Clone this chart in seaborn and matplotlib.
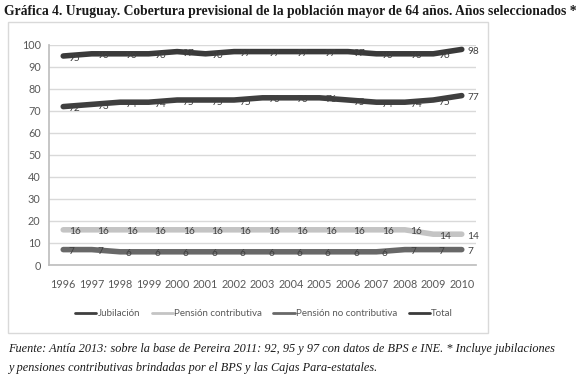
import pandas as pd
import matplotlib.pyplot as plt
import matplotlib.patches as patches
from matplotlib.lines import Line2D
import seaborn as sns

# Datos
anios = [1996, 1997, 1998, 1999, 2000, 2001, 2002, 2003, 2004, 2005, 2006, 2007, 2008, 2009, 2010]
jubilacion = [72, 73, 74, 74, 75, 75, 75, 76, 76, 76, 75, 74, 74, 75, 77]
pension_contributiva = [16, 16, 16, 16, 16, 16, 16, 16, 16, 16, 16, 16, 16, 14, 14]
pension_no_contributiva = [7, 7, 6, 6, 6, 6, 6, 6, 6, 6, 6, 6, 7, 7, 7]
total = [95, 96, 96, 96, 97, 96, 97, 97, 97, 97, 97, 96, 96, 96, 98]

series = ["Jubilación", "Pensión contributiva", "Pensión no contributiva", "Total"]
colores = ["#3f3f3f", "#c4c4c4", "#686868", "#3a3a3a"]

df = pd.DataFrame({
    "pos": list(range(len(anios))) * 4,
    "valor": jubilacion + pension_contributiva + pension_no_contributiva + total,
    "serie": [s for s in series for _ in anios],
})

sns.set_theme(style="white")
plt.rcParams["font.family"] = ["Lato", "DejaVu Sans"]

fig = plt.figure(figsize=(5.8, 3.8), dpi=100)
ax = fig.add_axes([49 / 580, 1 - 265 / 380, (476 - 49) / 580, 220 / 380])

# Marco del gráfico
fig.patches.append(patches.Rectangle((8 / 580, 1 - 333 / 380), 480 / 580, 311 / 380,
                                     transform=fig.transFigure, fill=False,
                                     edgecolor="#d9d9d9", linewidth=1))

sns.lineplot(data=df, x="pos", y="valor", hue="serie", palette=colores,
             hue_order=series, linewidth=4, legend=False, ax=ax)

# Etiquetas de datos
for s, c in zip(series, colores):
    sub = df[df["serie"] == s]
    for x, y in zip(sub["pos"], sub["valor"]):
        ax.annotate(str(y), (x, y), xytext=(4, -1.5), textcoords="offset points",
                    ha="left", va="center", fontsize=7.3, color="#404040")

ax.set_xlim(-0.5, len(anios) - 0.5)
ax.set_ylim(0, 100)
ax.set_yticks(range(0, 101, 10))
ax.set_xticks(range(len(anios)))
ax.set_xticklabels([str(a) for a in anios])
ax.set_xticks([i - 0.5 for i in range(len(anios) + 1)], minor=True)
ax.grid(axis="y", color="#d9d9d9", linewidth=1)
ax.set_axisbelow(True)
ax.tick_params(axis="x", which="major", length=0, labelsize=7.8, labelcolor="#595959", pad=10)
ax.tick_params(axis="x", which="minor", length=4, color="#bfbfbf", direction="out")
ax.tick_params(axis="y", length=3, color="#bfbfbf", labelsize=7.8, labelcolor="#595959", pad=3)
for lado in ["top", "right"]:
    ax.spines[lado].set_visible(False)
ax.spines["left"].set_color("#bfbfbf")
ax.spines["bottom"].set_color("#bfbfbf")
ax.set_xlabel("")
ax.set_ylabel("")

handles = [Line2D([], [], color=c, linewidth=2) for c in colores]
fig.legend(handles, series, loc="center", bbox_to_anchor=(264 / 580, 1 - 314 / 380),
           ncol=4, frameon=False, fontsize=7, handlelength=2.2, handletextpad=0.1,
           columnspacing=1.2, labelcolor="#595959")

fig.text(4 / 580, 1 - 11 / 380,
         "Gráfica 4. Uruguay. Cobertura previsional de la población mayor de 64 años. Años seleccionados *",
         family="Liberation Serif", fontweight="bold", fontsize=9.8, va="center", ha="left", color="#1a1a1a")
fig.text(8 / 580, 1 - 349 / 380,
         "Fuente: Antía 2013: sobre la base de Pereira 2011: 92, 95 y 97 con datos de BPS e INE. * Incluye jubilaciones",
         family="Liberation Serif", style="italic", fontsize=8.8, va="center", ha="left", color="#1a1a1a")
fig.text(8 / 580, 1 - 368 / 380,
         "y pensiones contributivas brindadas por el BPS y las Cajas Para-estatales.",
         family="Liberation Serif", style="italic", fontsize=8.8, va="center", ha="left", color="#1a1a1a")

plt.savefig("out.png", dpi=100)
